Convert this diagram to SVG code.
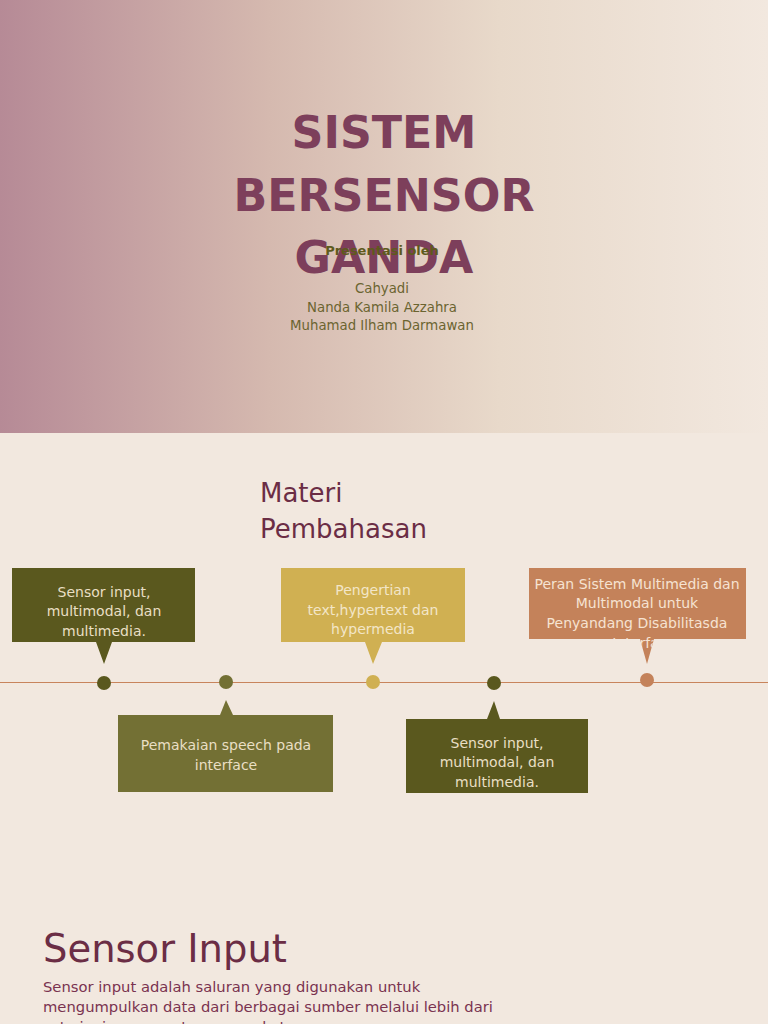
<svg xmlns="http://www.w3.org/2000/svg" width="768" height="1024" viewBox="0 0 768 1024">
<defs>
<linearGradient id="hdr" x1="0" y1="0" x2="1" y2="0">
<stop offset="0" stop-color="#b68a96"/>
<stop offset="0.35" stop-color="#d5b9af"/>
<stop offset="0.65" stop-color="#e8d9ca"/>
<stop offset="1" stop-color="#f2e8df"/>
</linearGradient>
<clipPath id="c5"><path d="M529 568H746V639H654L647 664L640 639H529Z"/></clipPath>
<style>
text{font-family:"DejaVu Sans","Liberation Sans",sans-serif}
.title{font-size:44.3px;font-weight:bold;fill:#7d3f5b;text-anchor:middle}
.sub{font-size:13.3px;fill:#6b6430;text-anchor:middle}
.bt{font-size:14px;text-anchor:middle}
.lt{fill:#e9dfc4}
.ly{fill:#f3e6c8}
.lp{fill:#f6e3d2}
.head{fill:#6b2d45}
.para{font-size:14.75px;fill:#7a3350}
</style>
</defs>
<rect width="768" height="1024" fill="#f2e8df"/>
<rect width="768" height="433" fill="url(#hdr)"/>
<g id="title">
<text class="title" x="384" y="148">SISTEM</text>
<text class="title" x="384" y="211">BERSENSOR</text>
<text class="title" x="384" y="273">GANDA</text>
<text class="sub" x="382" y="255" style="font-weight:bold;fill:#5e5a1c;font-size:13px">Presentasi oleh</text>
<text class="sub" x="382" y="293">Cahyadi</text>
<text class="sub" x="382" y="312">Nanda Kamila Azzahra</text>
<text class="sub" x="382" y="330">Muhamad Ilham Darmawan</text>
</g>
<g id="materi">
<text class="head" x="260" y="502" font-size="26">Materi</text>
<text class="head" x="260" y="538" font-size="26">Pembahasan</text>
</g>
<g id="connectors">
<line x1="0" y1="682.5" x2="768" y2="682.5" stroke="#c8845c" stroke-width="1"/>
</g>
<g id="dots">
<circle cx="104" cy="683" r="7" fill="#5a581e"/>
<circle cx="226" cy="682" r="7" fill="#737034"/>
<circle cx="373" cy="682" r="7" fill="#d0b052"/>
<circle cx="494" cy="683" r="7" fill="#5a581e"/>
<circle cx="647" cy="680" r="7" fill="#c4825a"/>
</g>
<g id="box1">
<path d="M12 568H195V642H112L104 664L96 642H12Z" fill="#5a581e"/>
<text class="bt lt" x="104" y="597">Sensor input,</text>
<text class="bt lt" x="104" y="616">multimodal, dan</text>
<text class="bt lt" x="104" y="636">multimedia.</text>
</g>
<g id="box2">
<path d="M118 715H220L226 700L233 715H333V792H118Z" fill="#737034"/>
<text class="bt lt" x="226" y="750">Pemakaian speech pada</text>
<text class="bt lt" x="226" y="770">interface</text>
</g>
<g id="box3">
<path d="M281 568H465V642H382L373 664L365 642H281Z" fill="#d0b052"/>
<text class="bt ly" x="373" y="595">Pengertian</text>
<text class="bt ly" x="373" y="615">text,hypertext dan</text>
<text class="bt ly" x="373" y="634">hypermedia</text>
</g>
<g id="box4">
<path d="M406 719H487L494 701L500 719H588V793H406Z" fill="#5a581e"/>
<text class="bt lt" x="497" y="748">Sensor input,</text>
<text class="bt lt" x="497" y="767">multimodal, dan</text>
<text class="bt lt" x="497" y="787">multimedia.</text>
</g>
<g id="box5">
<path d="M529 568H746V639H654L647 664L640 639H529Z" fill="#c4825a"/>
<text class="bt lp" x="637" y="589">Peran Sistem Multimedia dan</text>
<text class="bt lp" x="637" y="608">Multimodal untuk</text>
<text class="bt lp" x="637" y="628">Penyandang Disabilitasda</text>
<text class="bt lp" x="637" y="648" clip-path="url(#c5)">n Interface</text>
</g>
<g id="sensor-input">
<text class="head" x="43" y="962" font-size="38.5">Sensor Input</text>
<text class="para" x="43" y="992">Sensor input adalah saluran yang digunakan untuk</text>
<text class="para" x="43" y="1012">mengumpulkan data dari berbagai sumber melalui lebih dari</text>
<text class="para" x="43" y="1032">satu jenis sensor atau perangkat.</text>
</g>
</svg>
